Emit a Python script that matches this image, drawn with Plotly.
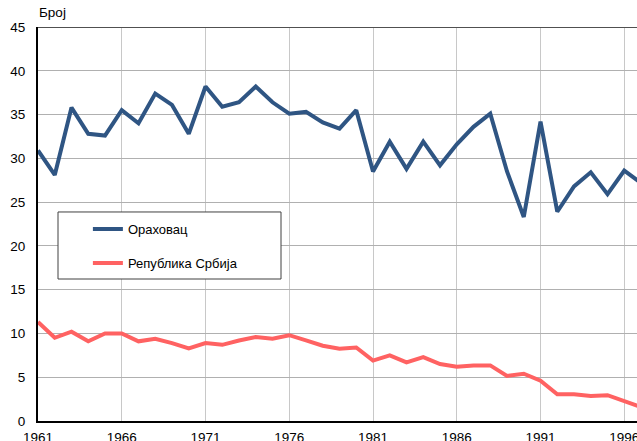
import plotly.graph_objects as go

years = list(range(1961, 1998))
orahovac = [30.9, 28.1, 35.8, 32.8, 32.6, 35.5, 34.0, 37.4, 36.1, 32.8,
            38.2, 35.9, 36.4, 38.2, 36.4, 35.1, 35.3, 34.1, 33.4, 35.5,
            28.5, 31.9, 28.8, 31.9, 29.2, 31.6, 33.6, 35.1, 28.5, 23.3,
            34.2, 23.9, 26.8, 28.4, 25.9, 28.6, 27.2]
srbija = [11.3, 9.5, 10.2, 9.1, 10.0, 10.0, 9.1, 9.4, 8.9, 8.3,
          8.9, 8.7, 9.2, 9.6, 9.4, 9.8, 9.2, 8.6, 8.25, 8.4,
          6.9, 7.5, 6.7, 7.3, 6.5, 6.2, 6.35, 6.35, 5.15, 5.4,
          4.6, 3.05, 3.05, 2.85, 2.95, 2.3, 1.6]
tick_years = [1961, 1966, 1971, 1976, 1981, 1986, 1991, 1996]
series_names = ["Ораховац", "Република Србија"]
y_label = "Број"

FONT = "Liberation Sans, Arial, sans-serif"

fig = go.Figure()
fig.add_trace(go.Scatter(x=years, y=orahovac, name=series_names[0], mode="lines",
                         line=dict(color="#2F5583", width=4), legendgroup="a"))
fig.add_trace(go.Scatter(x=years, y=srbija, name=series_names[1], mode="lines",
                         line=dict(color="#FF6262", width=4), legendgroup="b"))

fig.update_layout(
    width=637, height=441,
    margin=dict(l=38, r=0, t=27, b=20),
    paper_bgcolor="white", plot_bgcolor="white",
    font=dict(family=FONT, size=13, color="black"),
    showlegend=True,
    legend=dict(x=0.0833, y=0.525, xanchor="left", yanchor="top",
                bgcolor="rgba(0,0,0,0)", borderwidth=0,
                font=dict(size=13, color="black"),
                tracegroupgap=14, traceorder="grouped"),
    xaxis=dict(range=[1961, 1996.76], tickvals=tick_years,
               showgrid=True, gridcolor="#c8c8c8", gridwidth=1,
               showline=True, linecolor="black", linewidth=2,
               zeroline=False, ticks="", tickfont=dict(size=13.5),
               ticklabeloverflow="allow", ticklabelstandoff=3, automargin=False),
    yaxis=dict(range=[0, 45], dtick=5, tick0=0,
               showgrid=True, gridcolor="#b0b0b0", gridwidth=1,
               showline=True, linecolor="black", linewidth=2,
               zeroline=False, ticks="", tickfont=dict(size=13.5),
               ticklabelstandoff=8, automargin=False),
    shapes=[
        dict(type="line", xref="paper", yref="y", x0=0, x1=1, y0=45, y1=45,
             line=dict(color="#505050", width=2), layer="above"),
        dict(type="rect", xref="paper", yref="paper",
             x0=0.0334, x1=0.4057, y0=0.3604, y1=0.5305,
             fillcolor="white", line=dict(color="#404040", width=1), layer="above"),
    ],
    annotations=[
        dict(text=y_label, xref="paper", yref="paper", x=-0.001, y=1.0, xanchor="left",
             yanchor="bottom", yshift=5, showarrow=False, font=dict(size=13.5, color="black")),
    ],
)

fig.write_html(
    "out.html",
    config={"displayModeBar": False},
    post_script="document.body.style.margin='0';document.body.style.overflow='hidden';",
)
